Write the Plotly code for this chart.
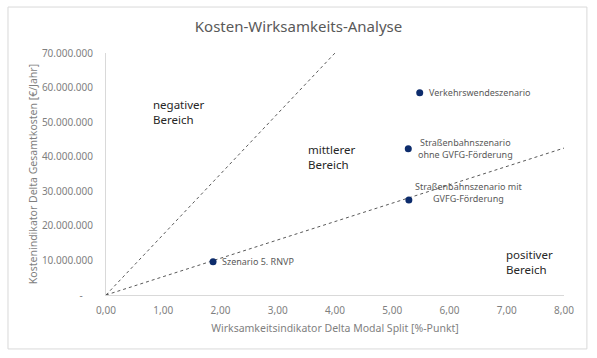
import plotly.graph_objects as go

# Data
scenario_names = ["Szenario 5. RNVP", "Straßenbahnszenario mit<br>GVFG-Förderung",
                  "Straßenbahnszenario<br>ohne GVFG-Förderung", "Verkehrswendeszenario"]
modal_split = [1.87, 5.29, 5.28, 5.48]
delta_costs = [9600000, 27500000, 42300000, 58500000]

steep_line_x = [0, 4]
steep_line_y = [0, 70000000]
flat_line_x = [0, 8]
flat_line_y = [0, 42500000]

region_labels = ["negativer<br>Bereich", "mittlerer<br>Bereich", "positiver<br>Bereich"]
region_x = [0.78, 3.5, 6.96]
region_y = [53000000, 40000000, 9500000]

x_ticks = [0, 1, 2, 3, 4, 5, 6, 7, 8]
x_ticktext = ["0,00", "1,00", "2,00", "3,00", "4,00", "5,00", "6,00", "7,00", "8,00"]
y_ticks = [0, 10000000, 20000000, 30000000, 40000000, 50000000, 60000000, 70000000]
y_ticktext = ["-\u00a0\u00a0\u00a0\u00a0", "10.000.000", "20.000.000", "30.000.000", "40.000.000",
              "50.000.000", "60.000.000", "70.000.000"]

FONT = "Noto Sans"
fig = go.Figure()

for lx, ly in [(steep_line_x, steep_line_y), (flat_line_x, flat_line_y)]:
    fig.add_trace(go.Scatter(x=lx, y=ly, mode="lines",
                             line=dict(color="#595959", width=1, dash="dot"),
                             hoverinfo="skip", showlegend=False))

fig.add_trace(go.Scatter(x=modal_split, y=delta_costs, mode="markers",
                         marker=dict(color="#0d2c6c", size=7),
                         showlegend=False))

# point labels
label_cfg = [
    dict(xanchor="left", yanchor="middle", xshift=7, yshift=0, align="left"),
    dict(xanchor="left", yanchor="bottom", xshift=4, yshift=-7, align="center"),
    dict(xanchor="left", yanchor="middle", xshift=8, yshift=0, align="center"),
    dict(xanchor="left", yanchor="middle", xshift=7, yshift=0, align="left"),
]
for name, x, y, cfg in zip(scenario_names, modal_split, delta_costs, label_cfg):
    fig.add_annotation(x=x, y=y, text=name, showarrow=False,
                       font=dict(family=FONT, size=9, color="#595959"), **cfg)

for t, x, y in zip(region_labels, region_x, region_y):
    fig.add_annotation(x=x, y=y, text=t, showarrow=False, xanchor="left", yanchor="middle",
                       align="left", font=dict(family=FONT, size=11.5, color="#262626"))

# border box
fig.add_shape(type="rect", xref="paper", yref="paper",
              x0=-0.214, x1=1.050, y0=-0.223, y1=1.190,
              line=dict(color="#d9d9d9", width=1), fillcolor="rgba(0,0,0,0)", layer="below")

fig.update_layout(
    width=597, height=358,
    margin=dict(l=106, r=33, t=53, b=63),
    paper_bgcolor="white", plot_bgcolor="white",
    title=dict(text="Kosten-Wirksamkeits-Analyse", x=0.5, xref="container", xanchor="center",
               y=1 - 27 / 358, yanchor="middle",
               font=dict(family=FONT, size=15, color="#595959")),
    font=dict(family=FONT),
    xaxis=dict(range=[0, 8], tickvals=x_ticks, ticktext=x_ticktext, showgrid=False,
               zeroline=False, showline=True, linecolor="#d9d9d9", linewidth=1,
               ticks="", ticklabelstandoff=6,
               tickfont=dict(family=FONT, size=10, color="#7f7f7f"),
               title=dict(text="Wirksamkeitsindikator Delta Modal Split [%-Punkt]",
                          font=dict(family=FONT, size=10.5, color="#7f7f7f"), standoff=8)),
    yaxis=dict(range=[0, 70000000], tickvals=y_ticks, ticktext=y_ticktext, showgrid=False,
               zeroline=False, showline=True, linecolor="#d9d9d9", linewidth=1,
               ticks="", ticklabelstandoff=10,
               tickfont=dict(family=FONT, size=10, color="#7f7f7f"),
               title=dict(text="Kostenindikator Delta Gesamtkosten [€/Jahr]",
                          font=dict(family=FONT, size=10.5, color="#7f7f7f"), standoff=2)),
)

fig.write_html("out.html", config={"displayModeBar": False},
               post_script="document.body.style.margin='0';document.body.style.overflow='hidden';")
